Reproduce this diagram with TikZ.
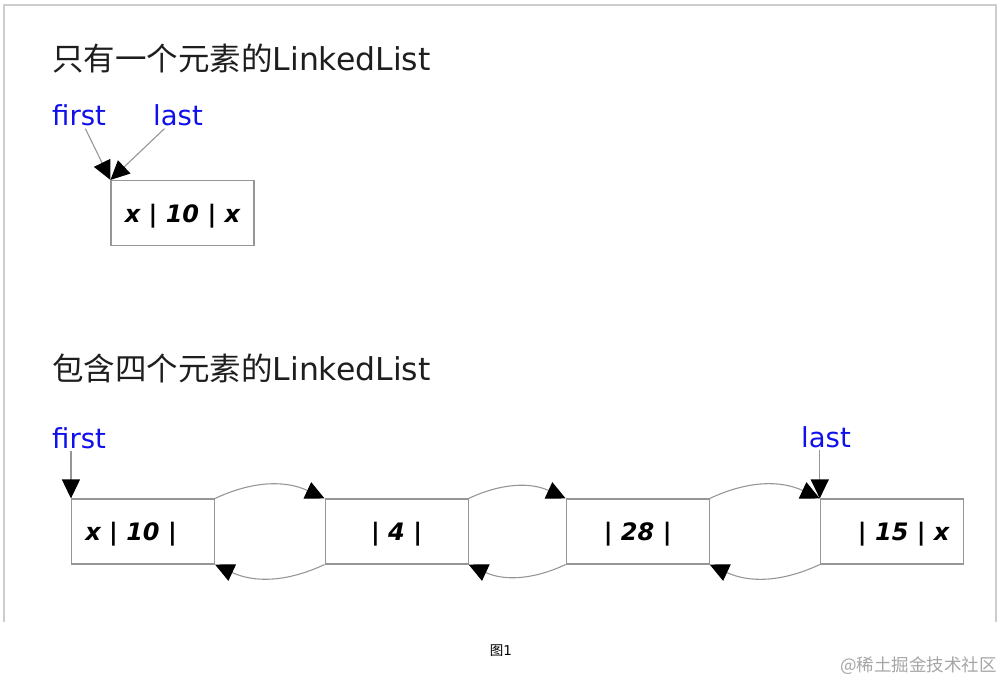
\documentclass[tikz,border=0pt]{standalone}
\usepackage{fontspec}
\setmainfont{DejaVu Sans}
\newfontfamily\cjk{Noto Sans CJK SC}
\usetikzlibrary{arrows.meta}
\usetikzlibrary{positioning}
\definecolor{llptr}  {RGB}{16,16,235}
\definecolor{llline} {RGB}{150,150,150}
\definecolor{llframe}{RGB}{205,205,205}
\definecolor{llmark} {RGB}{165,165,165}
\tikzset{list title/.style={
    anchor=base west, inner sep=0pt,
    text={rgb,255:red,30;green,30;blue,30},
    font=\fontsize{31.5}{36}\selectfont
}}
\tikzset{pointer name/.style={
    anchor=base west, inner sep=2pt,
    text=llptr,
    font=\fontsize{27.5}{33}\selectfont
}}
\tikzset{list cell/.style={
    draw=llline, line width=1.1pt,
    minimum width=143pt, minimum height=65pt, inner sep=0pt,
    text depth=0pt,
    font=\bfseries\itshape\fontsize{24}{28}\selectfont
}}
\tikzset{link/.style={
    color=llline, line width=1.1pt,
    -{Triangle[length=19pt,width=18pt,color=black,fill=black]}
}}

\begin{document}
\begin{tikzpicture}[x=1pt,y=-1pt]
            \useasboundingbox (0,0) rectangle (1004,684);
            \draw [llframe, line width=1.5pt] (4,622) -- (4,5) -- (996,5) -- (996,622);

            % one element
            \node (title1) [list title]    at(52,71)      {{\cjk 只有一个元素的}LinkedList};
            \node (first1) [pointer name]  at(50,126)     {first};
            \node (last1)  [pointer name]  at(151,126)    {last};
            \node (only)   [list cell]     at(182.5,213)  {x | 10 | x};

            % four elements
            \node (title2) [list title]    at(52,381)     {{\cjk 包含四个元素的}LinkedList};
            \node (first2) [pointer name]  at(50,448)     {first};
            \node (last2)  [pointer name]  at(799,447)    {last};

            \node (n10)    [list cell]     at(143,531.5)  {x | 10 | \phantom{x}};
            \node (n4)     [list cell]     [right=109.5pt of n10] {| 4 |};
            \node (n28)    [list cell]     [right=97pt of n4]     {| 28 |};
            \node (n15)    [list cell]     [right=110pt of n28]   {\phantom{x} | 15 | x};

            \node (caption) [font=\fontsize{13.5}{16}\selectfont] at(501,651) {{\cjk 图}1};
            \node (mark) [anchor=east, inner sep=0pt, text=llmark,
                          font=\fontsize{17.5}{20}\selectfont] at(997,666) {{\cjk @稀土掘金技术社区}};

            % edges
            \path [link]
              (first1) edge (only.north west)
              (last1)  edge (only.north west)
              (first2.south -| n10.north west) edge (n10.north west)
              (last2.south -| n15.north west)  edge (n15.north west)
              ;
            \path [link, bend left=25]
              (n10.north east) edge (n4.north west)
              (n4.south west)  edge (n10.south east)
              (n4.north east)  edge (n28.north west)
              (n28.south west) edge (n4.south east)
              (n28.north east) edge (n15.north west)
              (n15.south west) edge (n28.south east)
              ;
        \end{tikzpicture}
\end{document}
